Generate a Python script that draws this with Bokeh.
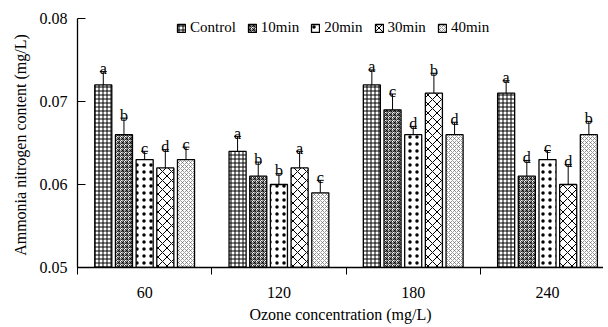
from bokeh.plotting import figure
from bokeh.models import (ColumnDataSource, FixedTicker, NumeralTickFormatter, Whisker,
                          TeeHead, Legend, LegendItem, Range1d)
from bokeh.core.properties import value
from bokeh.embed import file_html
from bokeh.resources import INLINE

# ---- data ----
groups = ["60", "120", "180", "240"]
series = ["Control", "10min", "20min", "30min", "40min"]
control = [0.072, 0.064, 0.072, 0.071]
min10 = [0.066, 0.061, 0.069, 0.061]
min20 = [0.063, 0.060, 0.066, 0.063]
min30 = [0.062, 0.062, 0.071, 0.060]
min40 = [0.063, 0.059, 0.066, 0.066]
control_err = [0.0016, 0.0018, 0.0018, 0.0015]
min10_err = [0.0020, 0.0017, 0.0019, 0.0019]
min20_err = [0.0010, 0.0013, 0.0010, 0.0011]
min30_err = [0.0022, 0.0020, 0.0024, 0.0024]
min40_err = [0.0015, 0.0015, 0.0015, 0.0016]
control_sig = ["a", "a", "a", "a"]
min10_sig = ["b", "b", "c", "d"]
min20_sig = ["c", "b", "d", "c"]
min30_sig = ["d", "a", "b", "d"]
min40_sig = ["c", "c", "d", "b"]
y_ticks = [0.05, 0.06, 0.07, 0.08]

values = [control, min10, min20, min30, min40]
errs = [control_err, min10_err, min20_err, min30_err, min40_err]
sigs = [control_sig, min10_sig, min20_sig, min30_sig, min40_sig]

FONT = "Liberation Serif"
FS = "16px"

# (pattern, scale, weight, colour)
styles = {
    "Control": ("cross", 4, 1, "black"),
    "10min": ("criss_cross", 4, 0.8, "black"),
    "20min": ("dot", 7, 3, "black"),
    "30min": ("diagonal_cross", 9, 1, "black"),
    "40min": ("diagonal_cross", 4, 0.6, "#555555"),
}

p = figure(frame_width=526, frame_height=249, output_backend="svg", toolbar_location=None,
           x_range=Range1d(0, 3.917), y_range=Range1d(0.05, 0.08),
           min_border_left=77, min_border_right=0, min_border_top=18, min_border_bottom=51)
p.outline_line_color = None
p.xgrid.grid_line_color = None
p.ygrid.grid_line_color = None
p.background_fill_color = "white"

step = 0.154
bar_w = 0.127
items = []
for j, name in enumerate(series):
    xs = [i + 0.5 + (j - 2) * step for i in range(len(groups))]
    top = values[j]
    e = errs[j]
    src = ColumnDataSource(dict(x=xs, top=top, up=[t + d for t, d in zip(top, e)],
                                lo=[t - d for t, d in zip(top, e)], sig=sigs[j]))
    pat, sc, wt, hc = styles[name]
    r = p.vbar(x="x", top="top", bottom=0.05, width=bar_w, source=src,
               fill_color="white", line_color="black", line_width=1.3,
               hatch_pattern=value(pat), hatch_scale=sc, hatch_weight=wt, hatch_color=hc)
    items.append(LegendItem(label=name, renderers=[r]))
    w = Whisker(source=src, base="x", upper="up", lower="lo", line_color="black", line_width=1,
                upper_head=TeeHead(size=7, line_color="black", line_width=1),
                lower_head=TeeHead(size=7, line_color="black", line_width=1))
    p.add_layout(w)
    p.text(x="x", y="up", text="sig", source=src, text_align="center", text_baseline="alphabetic",
           y_offset=-3, text_font=value(FONT), text_font_size=FS, text_color="black")

legend = Legend(items=items, orientation="horizontal", location=(99, 231),
                glyph_width=10, glyph_height=10, label_standoff=4, spacing=11,
                padding=0, margin=0, border_line_color=None, background_fill_alpha=0,
                label_text_font=FONT, label_text_font_size="15px", label_text_color="black")
p.add_layout(legend)

# x axis
xa = p.xaxis[0]
xa.ticker = FixedTicker(ticks=[i + 0.5 for i in range(len(groups))],
                        minor_ticks=list(range(len(groups) + 1)))
xa.major_label_overrides = {i + 0.5: g for i, g in enumerate(groups)}
xa.major_tick_in = 0
xa.major_tick_out = 0
xa.minor_tick_in = 0
xa.minor_tick_out = 7
xa.minor_tick_line_color = "black"
xa.axis_line_color = "black"
xa.axis_line_width = 1.3
xa.major_label_standoff = 12
xa.major_label_text_font = FONT
xa.major_label_text_font_size = FS
xa.major_label_text_color = "black"
xa.axis_label = "Ozone concentration (mg/L)"
xa.axis_label_text_font = FONT
xa.axis_label_text_font_size = FS
xa.axis_label_text_font_style = "normal"
xa.axis_label_text_color = "black"
xa.axis_label_standoff = 5

# y axis
ya = p.yaxis[0]
ya.ticker = FixedTicker(ticks=y_ticks)
ya.formatter = NumeralTickFormatter(format="0.00")
ya.major_tick_in = 8
ya.major_tick_out = 0
ya.minor_tick_line_color = None
ya.major_tick_line_color = "black"
ya.axis_line_color = "black"
ya.axis_line_width = 1.3
ya.major_label_standoff = 10
ya.major_label_text_font = FONT
ya.major_label_text_font_size = FS
ya.major_label_text_color = "black"
ya.axis_label = "Ammonia nitrogen content  (mg/L)"
ya.axis_label_text_font = FONT
ya.axis_label_text_font_size = FS
ya.axis_label_text_font_style = "normal"
ya.axis_label_text_color = "black"
ya.axis_label_standoff = 8

open("out.html", "w").write(file_html(p, INLINE))
